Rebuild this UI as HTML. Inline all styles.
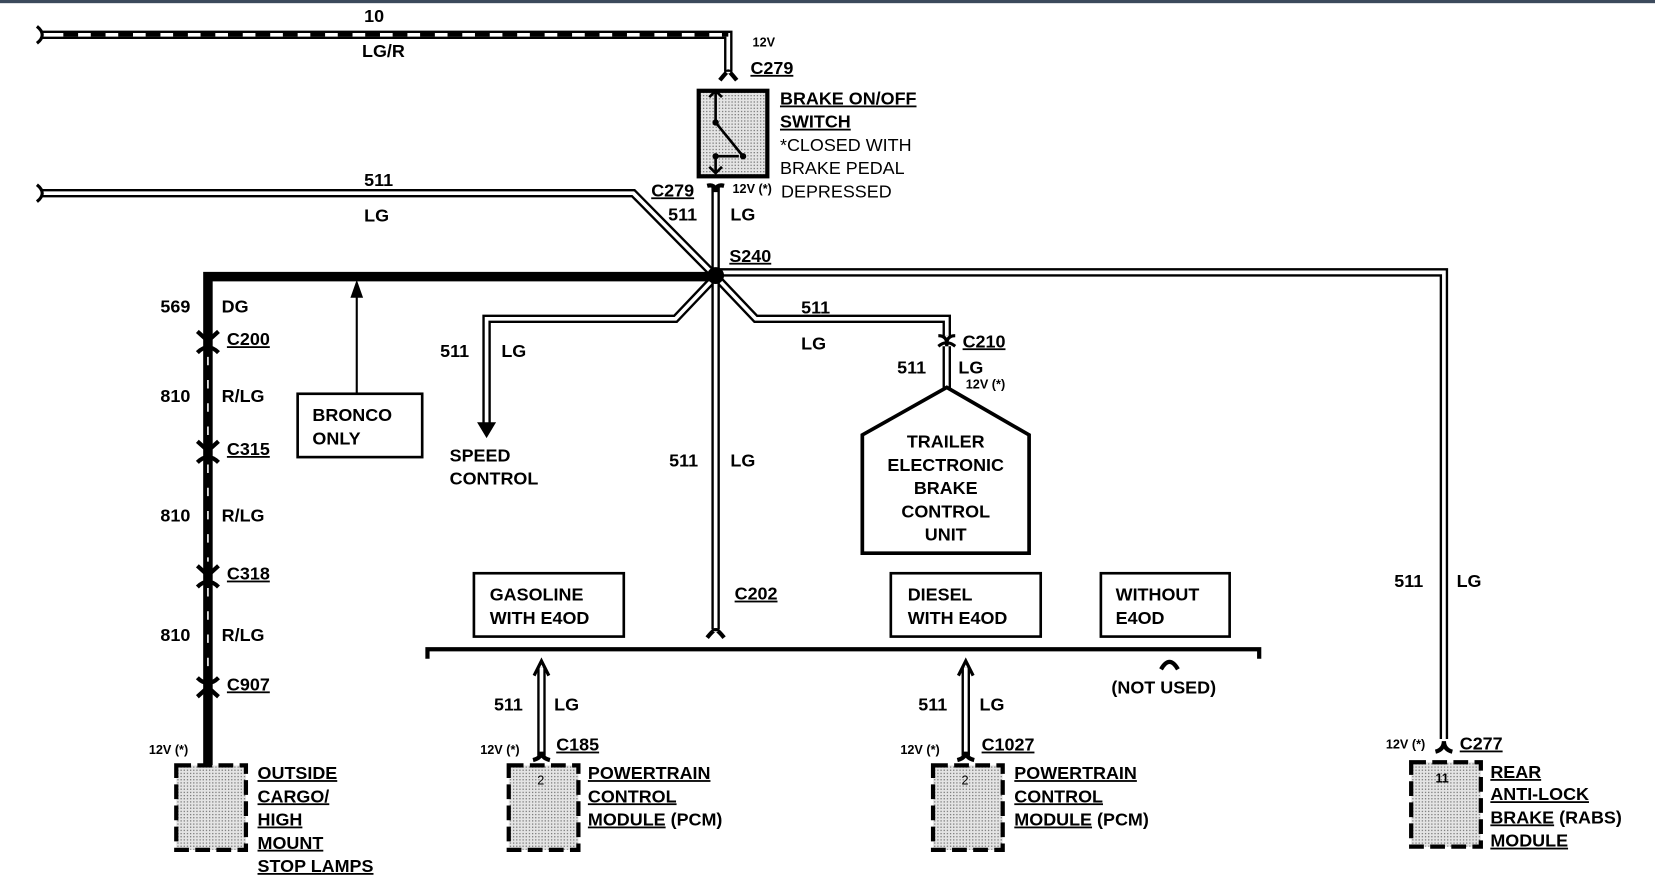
<!DOCTYPE html>
<html><head><meta charset="utf-8"><style>
html,body{margin:0;padding:0;background:#fff;}
svg{display:block;}
text{font-family:"Liberation Sans",Arial,sans-serif;font-weight:bold;font-size:17px;fill:#000;}
.u{text-decoration:underline;}
.s{font-size:12px;}
.n{font-weight:normal;}
</style></head><body>
<svg width="1655" height="891" viewBox="0 0 1568 844" preserveAspectRatio="none" xmlns="http://www.w3.org/2000/svg">
<defs>
<pattern id="st" width="3" height="3" patternUnits="userSpaceOnUse">
<rect width="3" height="3" fill="#e4e4e4"/><rect width="1.2" height="1.2" fill="#777"/>
</pattern>
</defs>
<rect x="0" y="0" width="1568" height="3" fill="#3c4a5c"/>
<g fill="none" stroke-linejoin="miter">
<path d="M40,33 H690 V68" stroke="#000" stroke-width="8"/>
<path d="M40,33 H690 V68" stroke="#fff" stroke-width="3.5"/>
<path d="M60,33 H690" stroke="#000" stroke-width="3.5" stroke-dasharray="14,12"/>
<path d="M35,25 q10,8 0,16" stroke="#000" stroke-width="3"/>
<path d="M40,183 H600 L678,262" stroke="#000" stroke-width="8"/>
<path d="M40,183 H600 L678,262" stroke="#fff" stroke-width="3.5"/>
<path d="M35,175 q10,8 0,16" stroke="#000" stroke-width="3"/>
<path d="M678,176 V262" stroke="#000" stroke-width="8"/>
<path d="M678,176 V262" stroke="#fff" stroke-width="3.5"/>
<path d="M678,258 H1368 V700" stroke="#000" stroke-width="8"/>
<path d="M678,258 H1368 V700" stroke="#fff" stroke-width="3.5"/>
<path d="M678,262 L640,302 H461 V402" stroke="#000" stroke-width="8"/>
<path d="M678,262 L640,302 H461 V402" stroke="#fff" stroke-width="3.5"/>
<path d="M678,262 L716,302 H897 V318" stroke="#000" stroke-width="8"/>
<path d="M678,262 L716,302 H897 V318" stroke="#fff" stroke-width="3.5"/>
<path d="M897,328 V368" stroke="#000" stroke-width="8"/>
<path d="M897,328 V368" stroke="#fff" stroke-width="3.5"/>
<path d="M678,262 V596" stroke="#000" stroke-width="8"/>
<path d="M678,262 V596" stroke="#fff" stroke-width="3.5"/>
<path d="M678,262 H197 V725" stroke="#000" stroke-width="9"/>
<path d="M197,338 V415 M197,440 V532 M197,557 V640" stroke="#fff" stroke-width="1.5" stroke-dasharray="8,14"/>
<path d="M338,373 V278" stroke="#000" stroke-width="2"/>
<path d="M405,624 V615 H1193 V624" stroke="#000" stroke-width="4"/>
<path d="M513,632 V716 M915,632 V716" stroke="#000" stroke-width="8"/>
<path d="M513,632 V716 M915,632 V716" stroke="#fff" stroke-width="3.5"/>
<path d="M682,76 q8,-10 8,-8 q0,-2 8,8" stroke="#000" stroke-width="4"/>
<path d="M670,176 q8,-2 8,6 q0,-8 8,-6" stroke="#000" stroke-width="4"/>
<path d="M889,318 q8,0 8,8 q0,-8 8,-8 M889,328 q8,-6 8,0 q0,-6 8,0" stroke="#000" stroke-width="3"/>
<path d="M670,604 q8,-10 8,-6 q0,-4 8,6" stroke="#000" stroke-width="4"/>
<path d="M506,640 q7,-14 7,-14 q0,0 7,14" stroke="#000" stroke-width="3"/>
<path d="M908,640 q7,-14 7,-14 q0,0 7,14" stroke="#000" stroke-width="3"/>
<path d="M1100,634 q8,-14 16,0" stroke="#000" stroke-width="4"/>
<path d="M1360,712 q8,-2 8,-10 q0,8 8,10" stroke="#000" stroke-width="4"/>
<path d="M505,720 q8,-2 8,-8 q0,6 8,8" stroke="#000" stroke-width="4"/>
<path d="M907,720 q8,-2 8,-8 q0,6 8,8" stroke="#000" stroke-width="4"/>
<g stroke="#000" stroke-width="4">
<path d="M187,314 l10,9 l10,-9 M187,334 q10,-10 20,0"/>
<path d="M187,418 l10,9 l10,-9 M187,438 q10,-10 20,0"/>
<path d="M187,536 l10,9 l10,-9 M187,556 q10,-10 20,0"/>
<path d="M187,642 q10,10 20,0 M187,660 l10,-9 l10,9"/>
</g>
<rect x="282" y="373" width="118" height="60" stroke="#000" stroke-width="2.5"/>
<rect x="449" y="543" width="142" height="60" stroke="#000" stroke-width="2.5"/>
<rect x="844" y="543" width="142" height="60" stroke="#000" stroke-width="2.5"/>
<rect x="1043" y="543" width="122" height="60" stroke="#000" stroke-width="2.5"/>
<path d="M817,412 L897,367 L975,412 V524 H817 Z" stroke="#000" stroke-width="3.5" fill="#fff"/>
</g>
<polygon points="332,282 338,265 344,282" fill="#000"/>
<polygon points="452,400 470,400 461,415" fill="#000"/>
<circle cx="678" cy="261" r="8" fill="#000"/>
<rect x="662" y="86" width="65" height="81" fill="url(#st)" stroke="#000" stroke-width="4"/>
<path d="M672,92 l6,-6 l6,6 M678,88 V116 L704,148 M678,148 H700 M678,148 V164 M672,158 l6,6 l6,-6" stroke="#000" stroke-width="2.5" fill="none"/>
<circle cx="678" cy="116" r="3" fill="#000"/><circle cx="704" cy="148" r="3" fill="#000"/><circle cx="678" cy="148" r="3" fill="#000"/>
<g fill="url(#st)" stroke="#000" stroke-width="4" stroke-dasharray="14,6">
<rect x="167" y="725" width="66" height="80"/>
<rect x="482" y="725" width="66" height="80"/>
<rect x="884" y="725" width="66" height="80"/>
<rect x="1337" y="722" width="66" height="80"/>
</g>
<text x="345" y="21">10</text><text x="343" y="54">LG/R</text>
<text x="713" y="44" class="s">12V</text>
<text x="711" y="70" class="u">C279</text>
<text x="739" y="99" class="u">BRAKE ON/OFF</text>
<text x="739" y="121" class="u">SWITCH</text>
<text x="739" y="143" class="n">*CLOSED WITH</text>
<text x="739" y="165" class="n">BRAKE PEDAL</text>
<text x="740" y="187" class="n">DEPRESSED</text>
<text x="617" y="186" class="u">C279</text>
<text x="694" y="183" class="s">12V (*)</text>
<text x="633" y="209">511</text><text x="692" y="209">LG</text>
<text x="345" y="176">511</text><text x="345" y="210">LG</text>
<text x="691" y="248" class="u">S240</text>
<text x="152" y="296">569</text><text x="210" y="296">DG</text>
<text x="215" y="327" class="u">C200</text>
<text x="152" y="381">810</text><text x="210" y="381">R/LG</text>
<text x="215" y="431" class="u">C315</text>
<text x="152" y="494">810</text><text x="210" y="494">R/LG</text>
<text x="215" y="549" class="u">C318</text>
<text x="152" y="607">810</text><text x="210" y="607">R/LG</text>
<text x="215" y="654" class="u">C907</text>
<text x="141" y="714" class="s">12V (*)</text>
<text x="244" y="738" class="u">OUTSIDE</text>
<text x="244" y="760" class="u">CARGO/</text>
<text x="244" y="782" class="u">HIGH</text>
<text x="244" y="804" class="u">MOUNT</text>
<text x="244" y="826" class="u">STOP LAMPS</text>
<text x="296" y="399">BRONCO</text><text x="296" y="421">ONLY</text>
<text x="417" y="338">511</text><text x="475" y="338">LG</text>
<text x="426" y="437">SPEED</text><text x="426" y="459">CONTROL</text>
<text x="759" y="297">511</text><text x="759" y="331">LG</text>
<text x="912" y="329" class="u">C210</text>
<text x="850" y="354">511</text><text x="908" y="354">LG</text>
<text x="915" y="368" class="s">12V (*)</text>
<text x="896" y="424" text-anchor="middle">TRAILER</text>
<text x="896" y="446" text-anchor="middle">ELECTRONIC</text>
<text x="896" y="468" text-anchor="middle">BRAKE</text>
<text x="896" y="490" text-anchor="middle">CONTROL</text>
<text x="896" y="512" text-anchor="middle">UNIT</text>
<text x="634" y="442">511</text><text x="692" y="442">LG</text>
<text x="696" y="568" class="u">C202</text>
<text x="464" y="569">GASOLINE</text><text x="464" y="591">WITH E4OD</text>
<text x="860" y="569">DIESEL</text><text x="860" y="591">WITH E4OD</text>
<text x="1057" y="569">WITHOUT</text><text x="1057" y="591">E4OD</text>
<text x="1053" y="657">(NOT USED)</text>
<text x="468" y="673">511</text><text x="525" y="673">LG</text>
<text x="455" y="714" class="s">12V (*)</text><text x="527" y="711" class="u">C185</text>
<text x="509" y="743" class="s n">2</text>
<text x="557" y="738" class="u">POWERTRAIN</text>
<text x="557" y="760" class="u">CONTROL</text>
<text x="557" y="782"><tspan class="u">MODULE</tspan> (PCM)</text>
<text x="870" y="673">511</text><text x="928" y="673">LG</text>
<text x="853" y="714" class="s">12V (*)</text><text x="930" y="711" class="u">C1027</text>
<text x="911" y="743" class="s n">2</text>
<text x="961" y="738" class="u">POWERTRAIN</text>
<text x="961" y="760" class="u">CONTROL</text>
<text x="961" y="782"><tspan class="u">MODULE</tspan> (PCM)</text>
<text x="1321" y="556">511</text><text x="1380" y="556">LG</text>
<text x="1313" y="709" class="s">12V (*)</text><text x="1383" y="710" class="u">C277</text>
<text x="1360" y="741" class="s">11</text>
<text x="1412" y="737" class="u">REAR</text>
<text x="1412" y="758" class="u">ANTI-LOCK</text>
<text x="1412" y="780"><tspan class="u">BRAKE</tspan> (RABS)</text>
<text x="1412" y="802" class="u">MODULE</text>
</svg>
</body></html>
